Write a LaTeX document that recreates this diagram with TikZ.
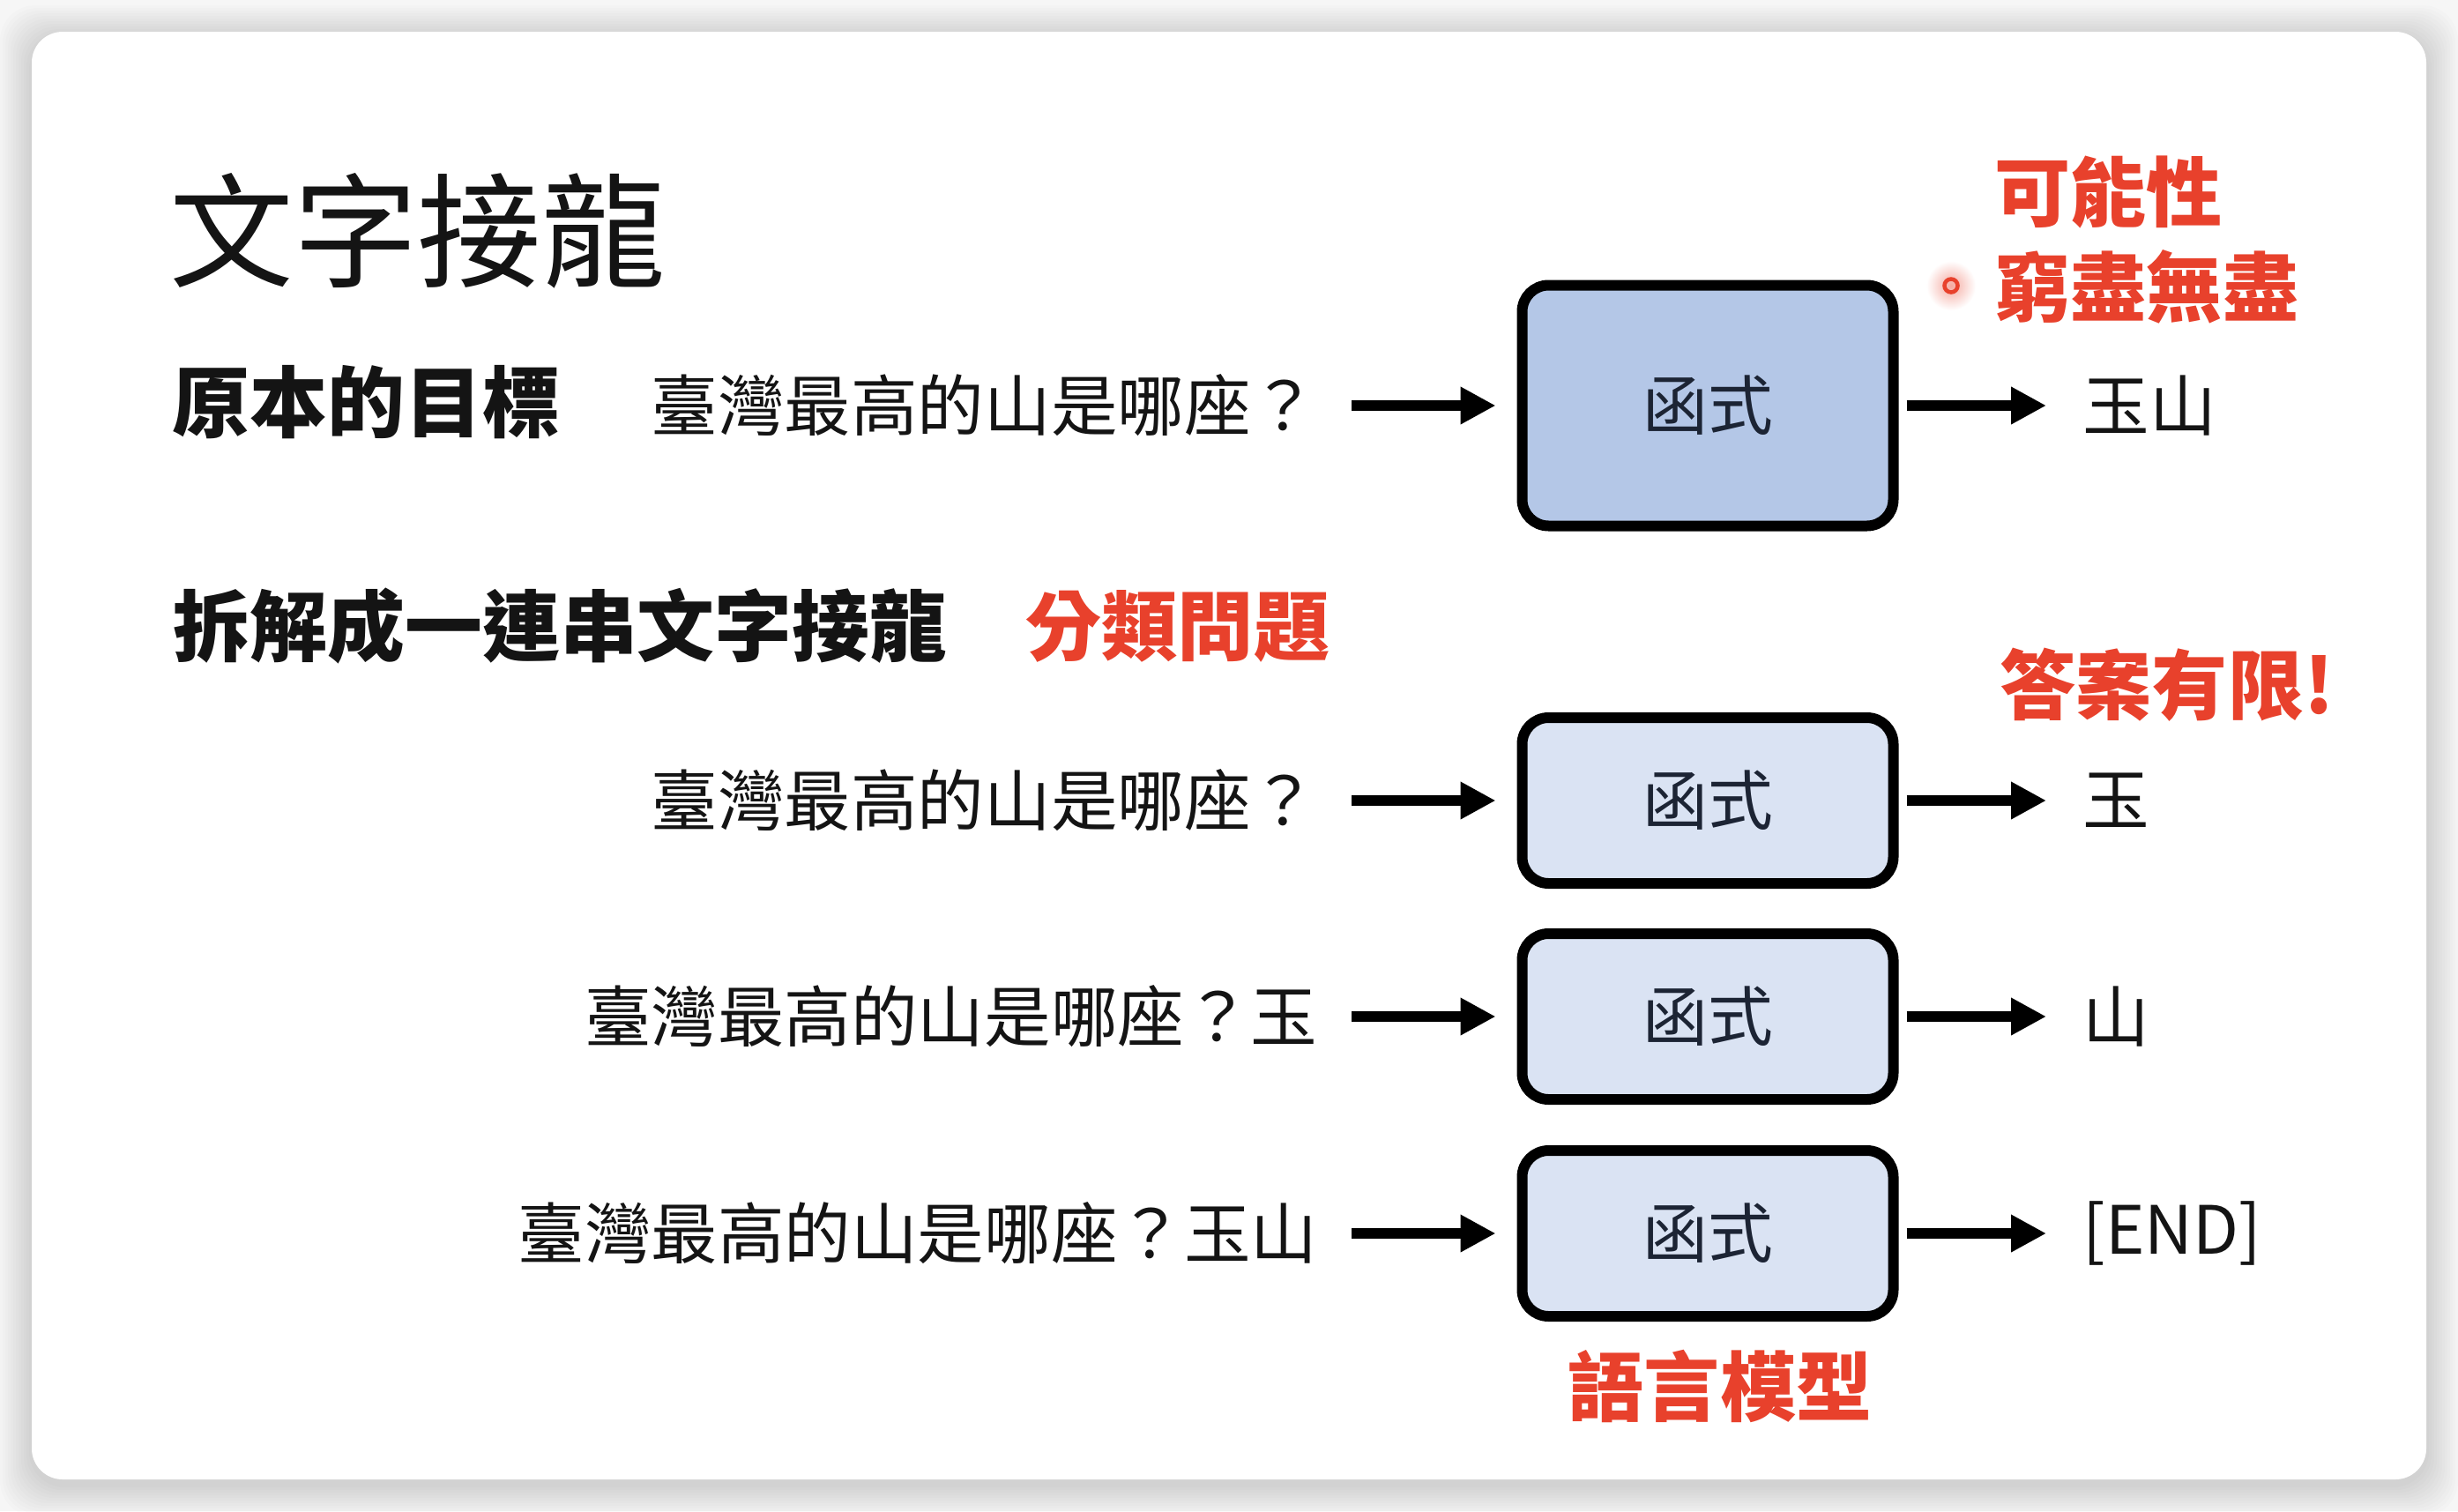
\documentclass[tikz,border=0pt]{standalone}
\usepackage{fontspec}
\setmainfont{Noto Sans CJK TC}
\usetikzlibrary{arrows.meta}

\definecolor{slidered}{HTML}{E8412C}
\definecolor{boxblue}{HTML}{B4C7E7}
\definecolor{boxpale}{HTML}{DAE3F3}
\definecolor{boxink}{HTML}{1C2434}
\definecolor{inkgray}{HTML}{141414}
\definecolor{pagegray}{HTML}{F6F6F6}

\begin{document}
\begin{tikzpicture}[x=1cm, y=-1cm,
        lbl/.style ={font=\fontsize{21.5}{26}\selectfont, text=inkgray, inner sep=0pt},
        hd/.style  ={font=\fontsize{25}{30}\selectfont\bfseries, text=inkgray, inner sep=0pt},
        hot/.style ={font=\fontsize{24.5}{29}\selectfont\bfseries, text=slidered, inner sep=0pt},
        func/.style={draw=black, line width=0.12cm, rounded corners=0.3cm, fill=boxpale,
                     minimum width=4.21cm, minimum height=1.88cm, inner sep=0pt,
                     font=\fontsize{21}{25}\selectfont, text=boxink},
        arr/.style ={line width=0.12cm, -{Triangle[length=0.40cm, width=0.40cm]}}]

    %--- Page and card ---
    \fill[pagegray] (0,0) rectangle (27.88,17.14);
    \useasboundingbox (0,0) rectangle (27.88,17.14);
    \foreach \k in {1,...,12}
        \fill[black, opacity=0.012, rounded corners=0.4cm]
            (0.36-0.03*\k, 0.42-0.03*\k) rectangle (27.52+0.03*\k, 16.84+0.03*\k);
    \fill[white, rounded corners=0.35cm] (0.36,0.36) rectangle (27.52,16.78);

    %--- Title and top row ---
    \node[lbl, font=\fontsize{40}{48}\selectfont, anchor=west] (title) at (1.92, 2.62) {文字接龍};
    \node[hd, anchor=west] (goal) at (1.95, 4.56) {原本的目標};

    \node[lbl, anchor=east] (q1) at (14.95, 4.60) {臺灣最高的山是哪座？};
    \node[func, fill=boxblue, minimum height=2.73cm] (f1) at (19.37, 4.60) {函式};
    \node[lbl, anchor=west] (a1) at (23.62, 4.60) {玉山};

    \shade[inner color=slidered!45, outer color=white] (22.13, 3.24) circle (0.28);
    \draw[slidered, line width=0.045cm] (22.13, 3.24) circle (0.075);
    \node[hot, anchor=west] (many) at (22.62, 2.18) {可能性};
    \node[hot, anchor=west] (endless) at (22.62, 3.25) {窮盡無盡};

    %--- Split into steps ---
    \node[hd, anchor=west] (split) at (1.95, 7.10) {拆解成一連串文字接龍};
    \node[hot, anchor=west] (cls) at (11.63, 7.10) {分類問題};
    \node[hot, anchor=west] (finite) at (22.68, 7.77) {答案有限!};

    \node[lbl, anchor=east] (q2) at (14.95, 9.08) {臺灣最高的山是哪座？};
    \node[func] (f2) at (19.37, 9.08) {函式};
    \node[lbl, anchor=west] (a2) at (23.62, 9.08) {玉};

    \node[lbl, anchor=east] (q3) at (14.95, 11.53) {臺灣最高的山是哪座？玉};
    \node[func] (f3) at (19.37, 11.53) {函式};
    \node[lbl, anchor=west] (a3) at (23.62, 11.53) {山};

    \node[lbl, anchor=east] (q4) at (14.95, 13.99) {臺灣最高的山是哪座？玉山};
    \node[func] (f4) at (19.37, 13.99) {函式};
    \node[lbl, anchor=west] (a4) at (23.62, 13.99) {[END]};

    \node[hot] (lm) at (19.51, 15.72) {語言模型};

    %--- Arrows in ---
    \draw[arr, shorten <=0.38cm, shorten >=0.24cm] (q1.east) -- (f1.west);
    \draw[arr, shorten <=0.38cm, shorten >=0.24cm] (q2.east) -- (f2.west);
    \draw[arr, shorten <=0.38cm, shorten >=0.24cm] (q3.east) -- (f3.west);
    \draw[arr, shorten <=0.38cm, shorten >=0.24cm] (q4.east) -- (f4.west);

    %--- Arrows out ---
    \draw[arr, shorten <=0.09cm, shorten >=0.41cm] (f1.east) -- (a1.west);
    \draw[arr, shorten <=0.09cm, shorten >=0.41cm] (f2.east) -- (a2.west);
    \draw[arr, shorten <=0.09cm, shorten >=0.41cm] (f3.east) -- (a3.west);
    \draw[arr, shorten <=0.09cm, shorten >=0.41cm] (f4.east) -- (a4.west);

\end{tikzpicture}
\end{document}
